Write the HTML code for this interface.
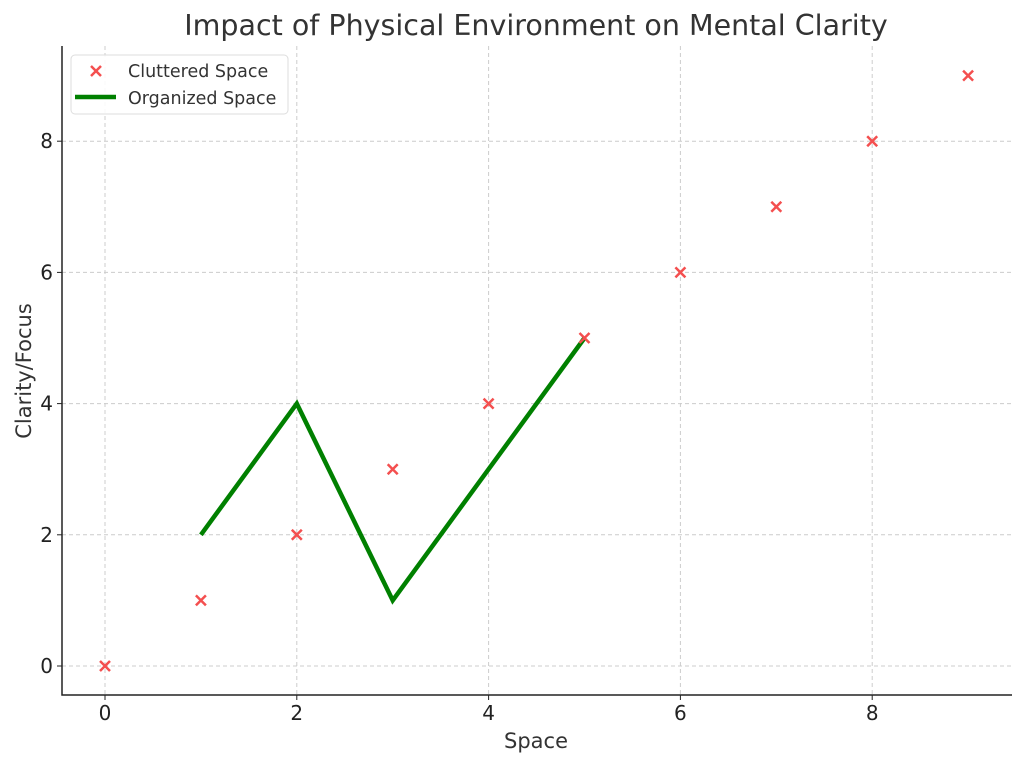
<!DOCTYPE html>
<html><head><meta charset="utf-8"><style>
body{margin:0;background:#fff;}
svg{display:block;font-family:"DejaVu Sans","Liberation Sans",sans-serif;}
</style></head><body>
<svg id="chart" width="1024" height="765" xmlns="http://www.w3.org/2000/svg">
<g id="grid"></g>
<g id="marks"></g>
<g id="axes"></g>
<text x="536" y="35" text-anchor="middle" font-size="28.5" fill="#333">Impact of Physical Environment on Mental Clarity</text>
<text x="536" y="748" text-anchor="middle" font-size="21" fill="#333">Space</text>
<text x="31" y="371" text-anchor="middle" font-size="21" fill="#333" transform="rotate(-90 31 371)">Clarity/Focus</text>
<g>
<rect x="71" y="55" width="217" height="59" rx="4" fill="#fff" fill-opacity="0.85" stroke="#ddd"/>
<g>
<path d="M91,66 l10,10 M101,66 l-10,10" stroke="#f44f4f" stroke-width="2.5"/>
<text x="128" y="77" font-size="17.5" fill="#333">Cluttered Space</text></g>
<g>
<line x1="75" y1="97" x2="116" y2="97" stroke="#008000" stroke-width="4.5"/>
<text x="128" y="104" font-size="17.5" fill="#333">Organized Space</text></g>
</g>
</svg>
<script>
const clutteredX=[0,1,2,3,4,5,6,7,8,9];
const clutteredY=[0,1,2,3,4,5,6,7,8,9];
const organizedX=[1,2,3,4,5];
const organizedY=[2,4,1,3,5];
const xTicks=[0,2,4,6,8];
const yTicks=[0,2,4,6,8];
const NS="http://www.w3.org/2000/svg";
const L=62,R=1012,T=46,B=695;
const sx=v=>105+v*95.9;
const sy=v=>666-v*65.6;
function el(tag,attrs,parent){const e=document.createElementNS(NS,tag);for(const k in attrs)e.setAttribute(k,attrs[k]);parent.appendChild(e);return e;}
const grid=document.getElementById('grid'),marks=document.getElementById('marks'),axes=document.getElementById('axes');
xTicks.forEach(t=>{const x=sx(t);
const g=el('line',{x1:x,x2:x,y1:T,y2:B,stroke:'#ccc','stroke-dasharray':'4,3'},grid);

el('line',{x1:x,x2:x,y1:B,y2:B+5,stroke:'#222'},axes);
const tx=el('text',{x:x,y:B+25,'text-anchor':'middle','font-size':'20',fill:'#222'},axes);tx.textContent=t;
});
yTicks.forEach(t=>{const y=sy(t);
const g=el('line',{x1:L,x2:R,y1:y,y2:y,stroke:'#ccc','stroke-dasharray':'4,3'},grid);

el('line',{x1:L-5,x2:L,y1:y,y2:y,stroke:'#222'},axes);
const tx=el('text',{x:L-9,y:y+7,'text-anchor':'end','font-size':'20',fill:'#222'},axes);tx.textContent=t;
});
const sp=el('path',{d:`M${L},${T} V${B} H${R}`,fill:'none',stroke:'#222','stroke-width':1.5},axes);

const line=el('polyline',{points:organizedX.map((x,i)=>sx(x)+','+sy(organizedY[i])).join(' '),fill:'none',stroke:'#008000','stroke-width':4.5,'stroke-linejoin':'miter'},marks);

clutteredX.forEach((x,i)=>{const cx=sx(x),cy=sy(clutteredY[i]);
const p=el('path',{d:`M${cx-5},${cy-5} l10,10 M${cx+5},${cy-5} l-10,10`,stroke:'#f44f4f','stroke-width':2.5},marks);
});
</script>
</body></html>
